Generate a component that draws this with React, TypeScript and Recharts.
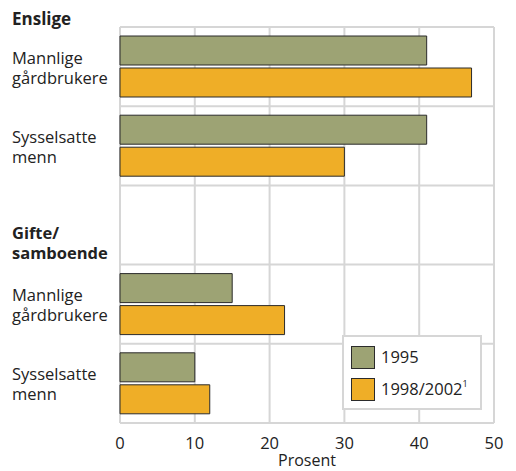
import React from 'react';
import { BarChart, Bar, XAxis, YAxis, CartesianGrid } from 'recharts';

// Row labels (top to bottom). Index 2 is the group header "Gifte/samboende".
const categories = [
  'Mannlige\ngårdbrukere',
  'Sysselsatte\nmenn',
  'Gifte/\nsamboende',
  'Mannlige\ngårdbrukere',
  'Sysselsatte\nmenn',
];
const headerRows = [2];
const values1995 = [41, 41, null, 15, 10];
const values19982002 = [47, 30, null, 22, 12];
const xTicks = [0, 10, 20, 30, 40, 50];
const seriesNames = ['1995', '1998/2002'];

const GREEN = '#9da374';
const ORANGE = '#efae27';
const GRID = '#d6d6d6';
const TEXT = '#222';
const FONT = '"Open Sans", sans-serif';

const data = categories.map((c, i) => ({
  key: String(i),
  v1995: values1995[i],
  v1998: values19982002[i],
}));

const YTick = (props: any) => {
  const { y, payload } = props;
  const idx = Number(payload.value);
  const lines = categories[idx].split('\n');
  const isHeader = headerRows.includes(idx);
  const first = isHeader ? 14 : -3;
  return (
    <g>
      {lines.map((l, i) => (
        <text
          key={i}
          x={4}
          y={y + first + i * 20}
          fill={TEXT}
          fontFamily={FONT}
          fontSize={16.5}
          fontWeight={isHeader ? 700 : 400}
          textAnchor="start"
        >
          {l}
        </text>
      ))}
    </g>
  );
};

// legend box drawn over the plot (lower right)
const LegendBox = () => (
  <div
    style={{
      position: 'absolute',
      left: 334,
      top: 327,
      width: 140,
      height: 75,
      boxSizing: 'border-box',
      border: `2px solid ${GRID}`,
      background: '#fff',
      fontFamily: FONT,
      fontSize: 16.5,
      color: TEXT,
    }}
  >
    {[GREEN, ORANGE].map((c, i) => (
      <div key={i} style={{ position: 'absolute', left: 7, top: 8 + i * 32, height: 24, display: 'flex', alignItems: 'center' }}>
        <div style={{ width: 24, height: 23, background: c, border: '1px solid #2b2b2b', boxSizing: 'border-box' }} />
        <span style={{ marginLeft: 6, lineHeight: '24px' }}>
          {seriesNames[i]}
          {i === 1 && <sup style={{ fontSize: 9, verticalAlign: 'top', lineHeight: '14px' }}>1</sup>}
        </span>
      </div>
    ))}
  </div>
);

export default function App() {
  return (
    <div style={{ position: 'relative', width: 500, height: 463 }}>
      <div
        style={{
          position: 'absolute',
          left: 4,
          top: 2,
          fontFamily: FONT,
          fontSize: 17,
          lineHeight: '17px',
          fontWeight: 700,
          color: TEXT,
        }}
      >
        Enslige
      </div>
      <BarChart
        width={500}
        height={463}
        data={data}
        layout="vertical"
        margin={{ top: 19, right: 14, bottom: 0, left: 0 }}
        barSize={29}
        barGap={3}
      >
        <CartesianGrid
          stroke={GRID}
          strokeWidth={2}
          horizontalCoordinatesGenerator={({ offset }: any) =>
            categories.concat(['']).map((_, i) => offset.top + (i * offset.height) / categories.length)
          }
        />
        <XAxis
          type="number"
          domain={[0, 50]}
          ticks={xTicks}
          axisLine={false}
          tickLine={false}
          tickSize={0}
          tickMargin={14}
          height={48}
          tick={{ fill: TEXT, fontFamily: FONT, fontSize: 16.5 }}
          label={{ value: 'Prosent', position: 'insideBottom', offset: 5, fill: TEXT, fontFamily: FONT, fontSize: 16 }}
        />
        <YAxis
          type="category"
          dataKey="key"
          width={112}
          axisLine={false}
          tickLine={false}
          tick={<YTick />}
          interval={0}
        />
        <Bar dataKey="v1995" name={seriesNames[0]} fill={GREEN} stroke="#2b2b2b" strokeWidth={1} isAnimationActive={false} />
        <Bar dataKey="v1998" name={seriesNames[1]} fill={ORANGE} stroke="#2b2b2b" strokeWidth={1} isAnimationActive={false} />
      </BarChart>
      <LegendBox />
    </div>
  );
}
